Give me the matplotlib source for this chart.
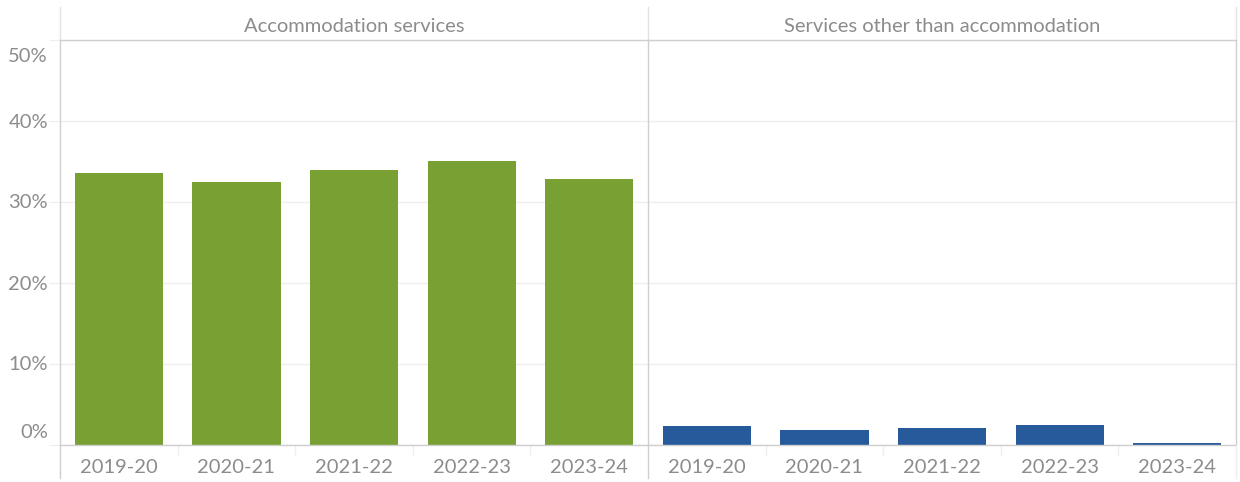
import matplotlib
matplotlib.use("Agg")
import matplotlib.pyplot as plt
from matplotlib.lines import Line2D
from matplotlib.transforms import offset_copy

plt.rcParams['font.family'] = ['Lato', 'DejaVu Sans']

# ---- data ----
years = ["2019-20", "2020-21", "2021-22", "2022-23", "2023-24"]
panels = ["Accommodation services", "Services other than accommodation"]
accommodation = [33.6, 32.5, 34.0, 35.1, 32.8]
other_services = [2.3, 1.85, 2.1, 2.5, 0.3]
y_ticks = [0, 10, 20, 30, 40, 50]
y_tick_labels = ["0%", "10%", "20%", "30%", "40%", "50%"]

GREEN = "#78A032"
BLUE = "#265A9A"
TEXT = "#8c8c8c"
LINE = "#cfcfcf"
GRID = "#efefef"
FS = 14.5

W, H = 1240, 482
fig = plt.figure(figsize=(W / 100, H / 100), dpi=100)


def fx(x):
    return x / W


def fy(y):
    return 1 - y / H


pane_top, pane_bot = 40, 445
xs = [60, 648, 1236]
series = [accommodation, other_services]
colors = [GREEN, BLUE]

axes = []
for i in range(2):
    ax = fig.add_axes([fx(xs[i]), fy(pane_bot), fx(xs[i + 1] - xs[i]), (pane_bot - pane_top) / H])
    ax.bar(range(len(years)), series[i], width=0.75, color=colors[i], edgecolor="none", zorder=3)
    ax.set_xlim(-0.5, len(years) - 0.5)
    ax.set_ylim(0, 50)
    for s in ax.spines.values():
        s.set_visible(False)
    ax.set_yticks(y_ticks)
    ax.yaxis.grid(True, color=GRID, lw=1, zorder=0)
    ax.set_axisbelow(True)
    ax.set_xticks(range(len(years)))
    ax.set_xticklabels(years, fontsize=FS, color=TEXT)
    ax.tick_params(axis="x", length=0, pad=10)
    ax.set_xticks([0.5, 1.5, 2.5, 3.5], minor=True)
    ax.tick_params(axis="x", which="minor", length=7, color="#eeeeee", width=1)
    ax.tick_params(axis="y", labelleft=False)
    if i == 0:
        ax.tick_params(axis="y", length=8, color="#eeeeee")
        tr = ax.get_yaxis_transform()
        for v, lab in zip(y_ticks, y_tick_labels):
            dy = -1
            if v == y_ticks[0]:
                dy = 12
            elif v == y_ticks[-1]:
                dy = -16
            t = offset_copy(tr, fig=fig, x=-12, y=dy, units="dots")
            ax.text(0, v, lab, transform=t, ha="right", va="center", fontsize=FS, color=TEXT)
    else:
        ax.tick_params(axis="y", length=0)
    axes.append(ax)
    fig.text(fx((xs[i] + xs[i + 1]) / 2), fy(26), panels[i], ha="center", va="center",
             fontsize=FS, color=TEXT)


def line(x0, y0, x1, y1, color=LINE, lw=1.0):
    fig.add_artist(Line2D([fx(x0), fx(x1)], [fy(y0), fy(y1)], color=color, lw=lw,
                          transform=fig.transFigure))


line(60, pane_top, 1236, pane_top)
line(60, pane_bot, 1236, pane_bot)
for x in xs:
    line(x, 7, x, pane_top, color="#e2e2e2")
line(60, pane_top, 60, 478)
line(648, pane_top, 648, 478)
line(1236, pane_top, 1236, pane_bot)
line(1236, pane_bot, 1236, 478, color="#eeeeee")

fig.savefig("out.png", dpi=100, facecolor="white")
